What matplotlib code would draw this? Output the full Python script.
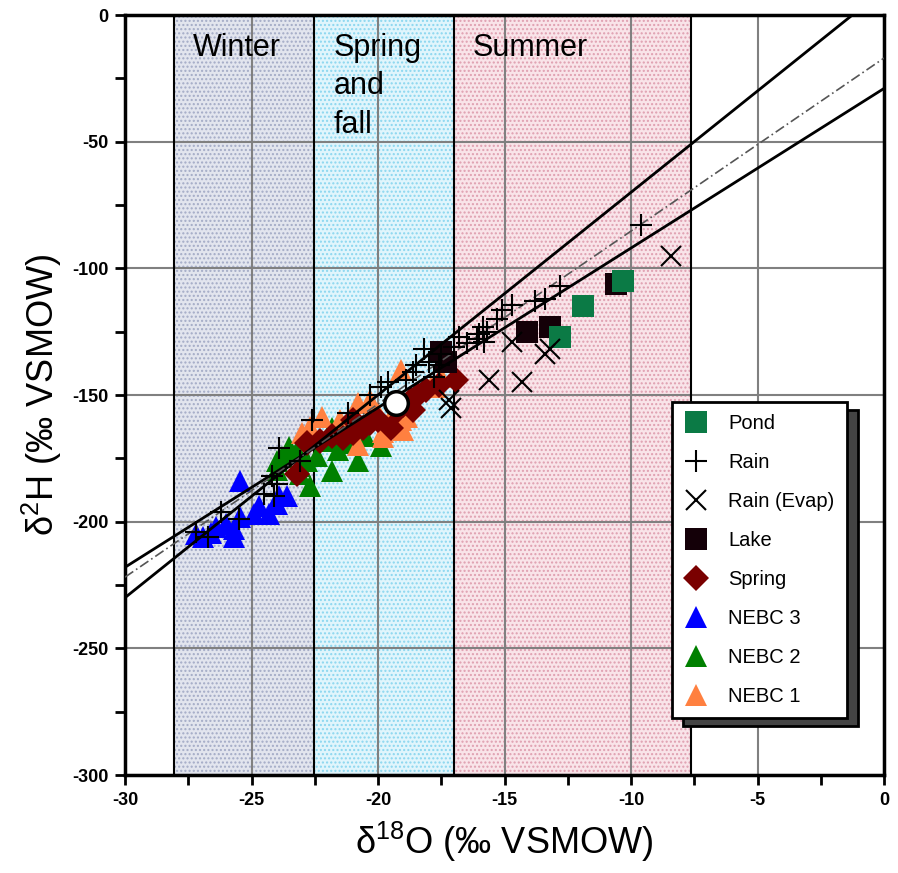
import numpy as np
import matplotlib
matplotlib.use('Agg')
import matplotlib.pyplot as plt
from matplotlib.patches import Rectangle
from matplotlib.ticker import MultipleLocator

plt.rcParams['font.family'] = ['Liberation Sans', 'DejaVu Sans']
plt.rcParams['mathtext.fontset'] = 'custom'
plt.rcParams['mathtext.rm'] = 'Liberation Sans'
plt.rcParams['axes.unicode_minus'] = False
plt.rcParams['hatch.linewidth'] = 1.0

# season bands (d18O limits)
season_names = ['Winter', 'Spring\nand\nfall', 'Summer']
season_edges = [-28.06, -22.53, -17.0, -7.63]
season_colors = ['#e2e5ee', '#e0f5fc', '#f9e4e9']
season_dots = ['#a3abc6', '#8ad6ef', '#df9fb0']

# samples
pond_x = [-10.3, -11.9, -12.8]
pond_y = [-105, -115, -127]

lake_x = [-10.6, -13.2, -14.1, -17.5, -17.3]
lake_y = [-106, -123, -125, -133, -137]

rain_x = [-9.6, -12.8, -13.4, -13.8, -14.7, -15.1, -15.3, -15.85, -16.0, -15.8,
          -15.7, -16.1, -16.5, -16.8, -17.0, -17.5, -18.2, -18.5, -18.6, -17.8,
          -19.6, -19.9, -20.3, -21.2, -22.6, -23.9, -23.1, -24.2, -24.1, -24.0,
          -24.5, -26.2, -25.5, -27.2, -26.7, -18.0, -18.9, -17.6]
rain_y = [-83, -107, -112, -113, -114.5, -116.5, -120, -123, -126, -129,
          -125, -128, -129.5, -127, -131, -134, -132, -138, -141, -143,
          -145, -147, -150, -157, -160, -171, -176, -182, -190, -185,
          -189, -196, -199, -204, -206, -137, -144, -138]

evap_x = [-8.4, -14.7, -13.2, -13.4, -15.6, -14.3, -17.1, -17.2]
evap_y = [-95, -129, -132, -134, -144, -145, -155, -152]

spring_x = [-19.0, -18.6, -18.4, -20.3, -21.0, -21.4, -22.8, -23.2, -16.9, -18.7,
            -19.2, -20.6, -21.8, -22.3, -17.6, -18.1, -20.0, -19.5, -21.0]
spring_y = [-154, -156, -150, -161, -165, -167, -169, -181, -144, -152,
            -156, -163, -166, -168, -146, -148, -160, -163, -160]

nebc3_x = [-25.45, -23.9, -24.7, -24.9, -25.45, -25.7, -26.4, -26.6, -26.9, -25.7,
           -24.3, -23.6, -27.2, -24.0, -26.0]
nebc3_y = [-184, -190, -194, -197, -198, -203, -202, -204.5, -206, -206,
           -197, -190, -205, -193, -201]

nebc2_x = [-23.5, -24.0, -23.1, -22.0, -22.4, -21.6, -21.1, -21.8, -21.0, -23.2,
           -19.5, -23.8, -24.0, -23.1, -20.5, -22.8, -22.7, -21.8, -20.8, -19.9]
nebc2_y = [-170.5, -176, -178, -168, -174, -171.7, -169, -163, -168, -172,
           -162.6, -174.5, -179.6, -181, -166, -176, -186, -180, -176, -170]

nebc1_x = [-22.2, -22.7, -23.0, -20.8, -20.3, -19.1, -19.8, -20.8, -17.7, -18.85,
           -19.1, -17.9, -19.5, -17.5, -21.5, -20.0, -19.8, -19.0]
nebc1_y = [-158.7, -162.6, -165, -153, -152, -160, -164.6, -169.7, -146.8, -158.7,
           -140, -146.8, -158.7, -143, -160, -157, -166.6, -164]

mean_x = [-19.3]
mean_y = [-153]

# water lines: slope, intercept
gmwl = (8.0, 10.0)
lmwl = (6.3, -29.0)
fit_line = (6.83, -17.0)

fig = plt.figure(figsize=(8.98, 8.73), dpi=100)
ax = fig.add_axes([125 / 898, 1 - 775 / 873, 759 / 898, 760 / 873])
ax.set_xlim(-30, 0)
ax.set_ylim(-300, 0)

for i in range(3):
    ax.axvspan(season_edges[i], season_edges[i + 1], facecolor=season_colors[i],
               edgecolor=season_dots[i], hatch='....', linewidth=0, zorder=0)
for xe in season_edges:
    ax.axvline(xe, color='black', lw=1.5, zorder=1.5)

ax.grid(True, color='#808080', lw=1.5, zorder=1)
ax.set_axisbelow(True)

ax.text(-27.3, -7, season_names[0], fontsize=22, va='top', ha='left', zorder=3)
ax.text(-21.75, -7, season_names[1], fontsize=22, va='top', ha='left',
        linespacing=1.38, zorder=3)
ax.text(-16.25, -7, season_names[2], fontsize=22, va='top', ha='left', zorder=3)

ax.plot(nebc3_x, nebc3_y, '^', color='#0000ff', ms=16.5, mew=0, ls='none', label='NEBC 3', zorder=3)
ax.plot(nebc2_x, nebc2_y, '^', color='#008000', ms=16.5, mew=0, ls='none', label='NEBC 2', zorder=3)
ax.plot(nebc1_x, nebc1_y, '^', color='#ff8040', ms=16.5, mew=0, ls='none', label='NEBC 1', zorder=3)
ax.plot(spring_x, spring_y, 'D', color='#7a0000', ms=13, mew=0, ls='none', label='Spring', zorder=3.1)
ax.plot(lake_x, lake_y, 's', color='#140008', ms=15.5, mew=0, ls='none', label='Lake', zorder=3.2)
ax.plot(pond_x, pond_y, 's', color='#0b7a45', ms=15.5, mew=0, ls='none', label='Pond', zorder=3.3)

xs = np.array([-30, 0])
for (m, b), sty, col, lw in [(gmwl, '-', 'black', 2), (lmwl, '-', 'black', 2),
                             (fit_line, (0, (6, 2, 1, 2)), '#555555', 1.2)]:
    ax.plot(xs, m * xs + b, ls=sty, color=col, lw=lw, zorder=3.5)

ax.plot(rain_x, rain_y, '+', color='black', ms=16, mew=1.5, ls='none', label='Rain', zorder=4)
ax.plot(evap_x, evap_y, 'x', color='black', ms=14, mew=1.5, ls='none', label='Rain (Evap)', zorder=4)
ax.plot(mean_x, mean_y, 'o', mfc='white', mec='black', ms=17, mew=2.5, ls='none', zorder=4.5)

for s in ax.spines.values():
    s.set_linewidth(2.5)
ax.xaxis.set_major_locator(MultipleLocator(5))
ax.xaxis.set_minor_locator(MultipleLocator(2.5))
ax.yaxis.set_major_locator(MultipleLocator(50))
ax.yaxis.set_minor_locator(MultipleLocator(25))
ax.tick_params(which='both', direction='out', length=7, width=2, pad=5,
               top=False, right=False, labelsize=13)

ax.set_xlabel('δ$^{18}$O (‰ VSMOW)', fontsize=26, labelpad=8)
ax.set_ylabel('δ$^{2}$H (‰ VSMOW)', fontsize=26, labelpad=6)

handles, labels = ax.get_legend_handles_labels()
order = ['Pond', 'Rain', 'Rain (Evap)', 'Lake', 'Spring', 'NEBC 3', 'NEBC 2', 'NEBC 1']
hl = dict(zip(labels, handles))
leg = ax.legend([hl[k] for k in order], order, loc='upper left',
                bbox_to_anchor=((672 - 125) / 759, (775 - 402) / 760),
                borderaxespad=0, fontsize=14.5, labelspacing=0.99,
                handlelength=1.2, handletextpad=1.0, borderpad=0.6,
                fancybox=False, framealpha=1, edgecolor='black', markerscale=1.0)
leg.get_frame().set_linewidth(2)
leg.set_zorder(10)

fig.canvas.draw()
for lab in ax.get_xticklabels() + ax.get_yticklabels():
    lab.set_fontweight('bold')
bb = leg.get_window_extent().transformed(ax.transAxes.inverted())
dx = 11 / 759
dy = 8 / 760
ax.add_patch(Rectangle((bb.x0 + dx, bb.y0 - dy), bb.width, bb.height,
                       transform=ax.transAxes, facecolor='#444444',
                       edgecolor='black', lw=2, zorder=9, clip_on=False))

fig.savefig('out.png', dpi=100)
